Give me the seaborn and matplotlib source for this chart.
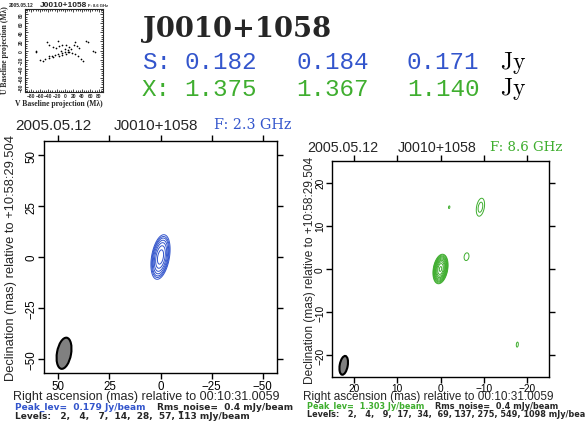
import numpy as np
import matplotlib
matplotlib.use('Agg')
import matplotlib.pyplot as plt
from matplotlib.patches import Ellipse
import seaborn as sns
import pandas as pd

sns.set_style('ticks')
plt.rcParams['font.family'] = ['Liberation Sans', 'DejaVu Sans']

W, H = 585., 427.
BLUE = '#3355cc'
GREEN = '#3fae2f'

source = 'J0010+1058'
epoch = '2005.05.12'
ra_ref = '00:10:31.0059'
dec_ref = '+10:58:29.504'
s_flux = ['0.182', '0.184', '0.171']
x_flux = ['1.375', '1.367', '1.140']

# uv coverage (Mlambda)
uv_v = [-43, -15.7, 23.4, 49, 54.6, -70, -68, -37.5, -29.7, -21.9, -14, -6.2, 1.6, 9.4,
        21, 28.9, 32.8, -58.6, -52.4, -46.8, -39, -31.2, -23.4, -15.6, -7.8, 0, 7.8,
        15.6, 23.4, 31.2, 39, 43, 66.4, 70.3, -37.5, -29.7, -14, -6.2, 1.6, 9.4,
        -1, 7, -9, 15]
uv_u = [19.5, 21, 19.5, 21, 19.5, 0, -2.4, 11.4, 7.5, 5.1, 9.8, 13, 11.4, 7.5,
        11.4, 9, 5.9, -20.2, -22.6, -18.6, -16.3, -12.3, -10.7, -8.3, -5.9, -4.4, -2.8,
        -5.9, -8.3, -12.3, -18.6, -22.6, 0, -2.4, -12.3, -13.9, -12.3, -10.7, -8.3, -4.4,
        3.5, 2, 0, 3.5]

# S band: components (x, y mas; peak mJy/beam; sigma major/minor mas; PA deg)
s_cx = [0.0]
s_cy = [0.0]
s_peak = [179.]
s_smaj = [3.7]
s_smin = [1.45]
s_pa = [-10.]
s_levels = [2, 4, 7, 14, 28, 57, 113]
s_beam = [47.2, -47.3, 6.9, 15.5, 10.]   # x, y, width, height, angle

# X band
x_cx = [0.0, -6.0, -9.2, -2.0, -17.7]
x_cy = [0.0, 2.85, 14.3, 14.3, -17.5]
x_peak = [1303., 3.0, 5.5, 2.1, 2.4]
x_smaj = [0.96, 1.0, 1.48, 1.0, 0.96]
x_smin = [0.46, 0.61, 0.63, 0.5, 0.38]
x_pa = [-10., -10., -10., -10., -5.]
x_levels = [2, 4, 9, 17, 34, 69, 137, 275, 549, 1098]
x_beam = [22.3, -22.3, 1.85, 4.4, 10.]


def px(x, y):
    return x / W, 1 - y / H


def model_map(cx, cy, peak, smaj, smin, pa, lim, n):
    g = np.linspace(-lim, lim, n)
    X, Y = np.meshgrid(g, g)
    Z = np.zeros_like(X)
    for x0, y0, p, a, b, t in zip(cx, cy, peak, smaj, smin, pa):
        th = np.radians(t)
        dx, dy = X - x0, Y - y0
        u = dx * np.sin(th) + dy * np.cos(th)
        v = dx * np.cos(th) - dy * np.sin(th)
        Z += p * np.exp(-0.5 * ((u / a) ** 2 + (v / b) ** 2))
    return X, Y, Z


def draw_map(rect, Z3, levels, color, lim, step, beam, fs, xpad):
    ax = fig.add_axes(rect)
    X, Y, Z = Z3
    ax.contour(X, Y, Z, levels=levels, colors=color, linewidths=0.7)
    ax.add_patch(Ellipse((beam[0], beam[1]), beam[2], beam[3], angle=beam[4],
                         facecolor='#808080', edgecolor='black', lw=1.5))
    ax.set_xlim(lim, -lim)
    ax.set_ylim(-lim, lim)
    ticks = np.arange(-2, 3) * step
    ax.set_xticks(ticks)
    ax.set_yticks(ticks)
    ax.tick_params(direction='out', length=4, width=1, top=True, right=True,
                   labelsize=fs, colors='black')
    ax.tick_params(axis='x', pad=xpad)
    ax.tick_params(axis='y', labelrotation=90, pad=1)
    for lab in ax.get_yticklabels():
        lab.set_va('center')
    for s in ax.spines.values():
        s.set_linewidth(1)
        s.set_color('black')
    return ax


def lev_text(levels):
    return 'Levels: ' + ', '.join('{:3d}'.format(l) for l in levels) + ' mJy/beam'


fig = plt.figure(figsize=(5.85, 4.27), dpi=100)

# ---- uv coverage panel
uv = fig.add_axes([25 / W, 1 - 93 / H, 78 / W, 83 / H])
df_uv = pd.DataFrame({'v': uv_v, 'u': uv_u})
sns.scatterplot(data=df_uv, x='v', y='u', ax=uv, color='black', s=1.5, linewidth=0, legend=False)
uv.set_xlim(-95, 90)
uv.set_ylim(-92, 92)
uv.set_xticks(np.arange(-80, 81, 20))
uv.set_yticks(np.arange(-80, 81, 20))
uv.set_xticks(np.arange(-90, 91, 5), minor=True)
uv.set_yticks(np.arange(-90, 91, 5), minor=True)
uv.tick_params(which='both', direction='in', top=True, right=True, width=0.6, pad=1,
               labelsize=3.5)
uv.tick_params(which='major', length=2.5)
uv.tick_params(which='minor', length=1.2)
uv.tick_params(axis='y', labelrotation=90)
for lab in uv.get_xticklabels() + uv.get_yticklabels():
    lab.set_fontweight('bold')
for lab in uv.get_yticklabels():
    lab.set_va('center')
uv.set_xlabel('')
uv.set_ylabel('')
for s in uv.spines.values():
    s.set_linewidth(0.8)
fig.text(*px(59, 104), 'V Baseline projection (M\u03bb)', ha='center', va='center',
         fontsize=5.5, fontweight='bold', family='Liberation Serif')
fig.text(*px(5, 50), 'U Baseline projection (M\u03bb)', ha='center', va='center',
         fontsize=5.5, fontweight='bold', family='Liberation Serif', rotation=90)
fig.text(*px(21, 5.5), epoch, ha='center', va='center', fontsize=3.5, fontweight='bold')
fig.text(*px(64, 5.5), source, ha='center', va='center', fontsize=6, fontweight='bold')
fig.text(*px(98, 6), 'F: 8.6 GHz', ha='center', va='center', fontsize=3, fontweight='bold')

# ---- header
fig.text(*px(143, 37), source, family='DejaVu Serif', fontweight='bold', fontsize=19.7,
         ha='left', va='baseline')
for row, (band, vals, col) in enumerate([('S', s_flux, BLUE), ('X', x_flux, GREEN)]):
    yb = 69 + row * 26.5
    fig.text(*px(142, yb), band + ':', family='Liberation Mono', fontsize=17.5, color=col,
             ha='left', va='baseline')
    for xv, val in zip([184, 296, 407], vals):
        fig.text(*px(xv, yb), val, family='Liberation Mono', fontsize=17.5, color=col,
                 ha='left', va='baseline')
    fig.text(*px(500, yb), r'$\mathrm{Jy}$', math_fontfamily='cm', fontsize=17,
             color='black', ha='left', va='baseline')

info_kw = dict(ha='left', va='center', family='DejaVu Sans', fontweight='bold')

# ---- S band map
Zs = model_map(s_cx, s_cy, s_peak, s_smaj, s_smin, s_pa, 57, 1141)
draw_map([44 / W, 1 - 374 / H, 233 / W, 232 / H], Zs, s_levels, BLUE, 57, 25, s_beam, 8.3, 1)
fig.text(*px(53.5, 125.7), epoch, ha='center', va='center', fontsize=11)
fig.text(*px(155.5, 125.7), source, ha='center', va='center', fontsize=11)
fig.text(*px(252.5, 125.2), 'F: 2.3 GHz', family='DejaVu Serif',
         ha='center', va='center', fontsize=10.3, color=BLUE)
fig.text(*px(11, 258), 'Declination (mas) relative to ' + dec_ref, rotation=90,
         ha='center', va='center', fontsize=9.3)
fig.text(*px(146.5, 397), 'Right ascension (mas) relative to ' + ra_ref,
         ha='center', va='center', fontsize=9.0)
fig.text(*px(15, 407.5), 'Peak_lev=  0.179 Jy/beam', fontsize=6.5, color=BLUE, **info_kw)
fig.text(*px(157, 407.5), 'Rms_noise=  0.4 mJy/beam', fontsize=6.5, **info_kw)
fig.text(*px(15, 417), lev_text(s_levels), fontsize=6.5, **info_kw)

# ---- X band map
Zx = model_map(x_cx, x_cy, x_peak, x_smaj, x_smin, x_pa, 25, 1001)
draw_map([332 / W, 1 - 378 / H, 217 / W, 216 / H], Zx, x_levels, GREEN, 25, 10, x_beam, 7.3, 0)
fig.text(*px(342.9, 147.7), epoch, ha='center', va='center', fontsize=10.3)
fig.text(*px(436.9, 147.7), source, ha='center', va='center', fontsize=10.3)
fig.text(*px(526.7, 147.2), 'F: 8.6 GHz', family='DejaVu Serif',
         ha='center', va='center', fontsize=9.6, color=GREEN)
fig.text(*px(310, 270), 'Declination (mas) relative to ' + dec_ref, rotation=90,
         ha='center', va='center', fontsize=8.6)
fig.text(*px(428.4, 397.5), 'Right ascension (mas) relative to ' + ra_ref,
         ha='center', va='center', fontsize=8.5)
fig.text(*px(306.7, 406.5), 'Peak_lev=  1.303 Jy/beam', fontsize=5.9, color=GREEN, **info_kw)
fig.text(*px(435, 406.5), 'Rms_noise=  0.4 mJy/beam', fontsize=5.9, **info_kw)
fig.text(*px(306.7, 415), lev_text(x_levels), fontsize=5.9, **info_kw)

fig.savefig('out.png', dpi=100)
